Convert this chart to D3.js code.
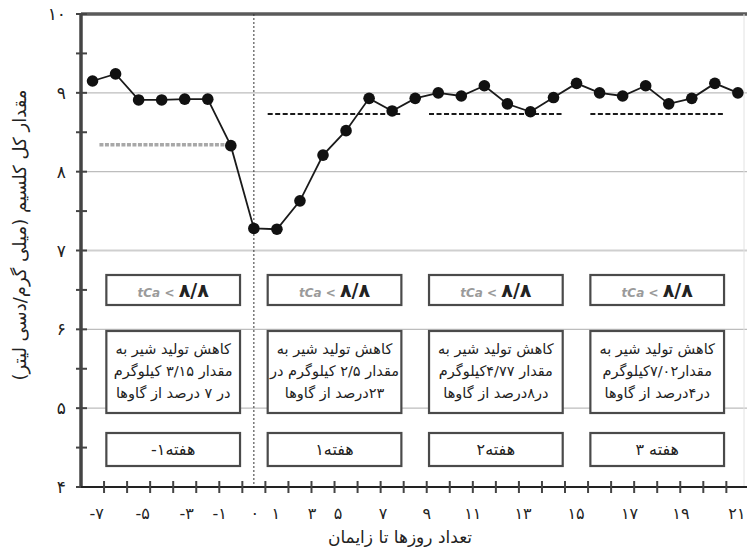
<!DOCTYPE html>
<html><head><meta charset="utf-8">
<script src="https://cdn.jsdelivr.net/npm/d3@7"></script>
<style>body{margin:0;background:#fff}svg{display:block}text{font-family:"DejaVu Sans",sans-serif}</style>
</head><body>
<script>
// ---- data ----
const days = [-7,-6,-5,-4,-3,-2,-1,0,1,2,3,4,5,6,7,8,9,10,11,12,13,14,15,16,17,18,19,20,21];
const calcium = [9.15,9.24,8.91,8.91,8.92,8.92,8.33,7.28,7.27,7.63,8.21,8.52,8.93,8.77,8.93,9.00,8.96,9.09,8.86,8.76,8.94,9.12,9.00,8.96,9.09,8.86,8.93,9.12,9.00];
const yTicks = [4,5,6,7,8,9,10];
const yTickLabels = ['۴','۵','۶','۷','۸','۹','۱۰'];
const xTickLabels = ['-۷','-۵','-۳','-۱','۰','۱','۳','۵','۷','۹','۱۱','۱۳','۱۵','۱۷','۱۹','۲۱'];
const xTickLabelAt = [-6.82,-4.82,-2.91,-1.48,0.04,0.95,2.52,3.65,5.6,7.5,9.5,11.68,13.98,16.3,18.53,20.96];
const weekStart = [-7,0,7,14];
const weekLabels = ['هفته۱-','هفته۱','هفته۲','هفته ۳'];
const thresholdLabel = '۸/۸';
const weekThreshold = [8.34,8.73,8.73,8.73];
const weekNotes = [
  ['کاهش تولید شیر به','مقدار ۳/۱۵ کیلوگرم','در ۷ درصد از گاوها'],
  ['کاهش تولید شیر به','مقدار ۲/۵ کیلوگرم در','۲۳درصد از گاوها'],
  ['کاهش تولید شیر به','مقدار ۴/۷۷کیلوگرم','در۸درصد از گاوها'],
  ['کاهش تولید شیر به','مقدار۷/۰۲کیلوگرم','در۴درصد از گاوها']
];
const xTitle = 'تعداد روزها تا زایمان';
const yTitle = 'مقدار کل کلسیم (میلی گرم/دسی لیتر)';

// ---- layout ----
const W = 747, H = 548;
const svg = d3.select('body').append('svg').attr('width', W).attr('height', H);
const x = d3.scaleLinear().domain([-7.5, 21.5]).range([81, 749.4]);
const y = d3.scaleLinear().domain([4, 10]).range([487, 14]);
const right = W;

// grid lines
svg.append('g').selectAll('line').data(yTicks.filter(v => v > 4 && v < 10)).join('line')
  .attr('x1', x(-7.5)).attr('x2', right).attr('y1', d => y(d)).attr('y2', d => y(d))
  .attr('stroke', d => d === 7 ? '#cfcfcf' : '#bdbdbd').attr('stroke-width', d => d === 7 ? 2.2 : 1.2);

// top frame line
svg.append('line').attr('x1', x(-7.5)).attr('x2', right).attr('y1', y(10)).attr('y2', y(10))
  .attr('stroke', '#5a5a5a').attr('stroke-width', 3.5);
// faint right border
svg.append('line').attr('x1', 744).attr('x2', 744).attr('y1', y(10)).attr('y2', y(4))
  .attr('stroke', '#e2e2e2').attr('stroke-width', 1);

// vertical dashed line at day 0
svg.append('line').attr('x1', x(0)).attr('x2', x(0)).attr('y1', y(10)).attr('y2', y(4))
  .attr('stroke', '#333').attr('stroke-width', 1).attr('stroke-dasharray', '2,2');

// threshold dashed lines
svg.append('g').selectAll('line').data(weekStart).join('line')
  .attr('x1', (d, i) => x(d + (i === 0 ? 0.3 : 0.6))).attr('x2', (d, i) => x(d + (i === 0 ? 6.05 : 6.4)))
  .attr('y1', (d, i) => y(weekThreshold[i])).attr('y2', (d, i) => y(weekThreshold[i]))
  .attr('stroke', (d, i) => i === 0 ? '#a8a8a8' : '#1a1a1a')
  .attr('stroke-width', (d, i) => i === 0 ? 3.5 : 2)
  .attr('stroke-dasharray', (d, i) => i === 0 ? '4,1.5' : '5,2.5');

// data line and points
const pts = days.map((d, i) => [d, calcium[i]]);
svg.append('path').datum(pts)
  .attr('d', d3.line().x(d => x(d[0])).y(d => y(d[1])))
  .attr('fill', 'none').attr('stroke', '#1a1a1a').attr('stroke-width', 1.8);
svg.append('g').selectAll('circle').data(pts).join('circle')
  .attr('cx', d => x(d[0])).attr('cy', d => y(d[1])).attr('r', 5.8).attr('fill', '#111');

// boxes
const bx = i => x(weekStart[i] + 0.6), bw = i => x(weekStart[i] + 6.4) - x(weekStart[i] + 0.6);
const boxes = svg.append('g');
weekStart.forEach((s, i) => {
  const g = boxes.append('g');
  g.append('rect').attr('x', bx(i)).attr('y', 275).attr('width', bw(i)).attr('height', 30)
    .attr('fill', '#fff').attr('stroke', '#4a4a4a').attr('stroke-width', 2.2);
  const t = g.append('text').attr('x', bx(i) + bw(i) / 2).attr('y', 297).attr('text-anchor', 'middle')
    .attr('direction', 'ltr');
  t.append('tspan').text('tCa < ').attr('font-style', 'italic').attr('font-weight', 'bold')
    .attr('font-size', 12).attr('fill', '#9a9a9a');
  t.append('tspan').text(thresholdLabel).attr('font-weight', 'bold').attr('font-size', 19).attr('fill', '#222');
  g.append('rect').attr('x', bx(i)).attr('y', 331).attr('width', bw(i)).attr('height', 82)
    .attr('fill', '#fff').attr('stroke', '#4a4a4a').attr('stroke-width', 2.2);
  weekNotes[i].forEach((line, j) => {
    g.append('text').attr('x', bx(i) + bw(i) / 2).attr('y', 354 + j * 22)
      .attr('text-anchor', 'middle').attr('direction', 'rtl').attr('font-size', 14.5).attr('fill', '#222')
      .text(line);
  });
  g.append('rect').attr('x', bx(i)).attr('y', 433).attr('width', bw(i)).attr('height', 33)
    .attr('fill', '#fff').attr('stroke', '#4a4a4a').attr('stroke-width', 2.2);
  g.append('text').attr('x', bx(i) + bw(i) / 2).attr('y', 455).attr('text-anchor', 'middle')
    .attr('direction', 'rtl').attr('font-size', 16).attr('fill', '#222').text(weekLabels[i]);
});

// y axis
svg.append('line').attr('x1', x(-7.5)).attr('x2', x(-7.5)).attr('y1', y(10)).attr('y2', y(4) + 1)
  .attr('stroke', '#444').attr('stroke-width', 3.5);
const yMinor = d3.range(4.5, 10, 1);
svg.append('g').selectAll('line').data(yTicks.concat(yMinor)).join('line')
  .attr('x1', x(-7.5) - 5).attr('x2', x(-7.5) + 6).attr('y1', d => y(d)).attr('y2', d => y(d))
  .attr('stroke', '#444').attr('stroke-width', 2);
svg.append('g').selectAll('text').data(yTicks).join('text')
  .attr('x', 66).attr('y', d => y(d) + 6).attr('text-anchor', 'end')
  .attr('font-size', 17).attr('fill', '#222').text((d, i) => yTickLabels[i]);

// x axis
svg.append('line').attr('x1', x(-7.5)).attr('x2', right).attr('y1', y(4)).attr('y2', y(4))
  .attr('stroke', '#222').attr('stroke-width', 2);
svg.append('g').selectAll('line').data(d3.range(-6.5, 21, 1)).join('line')
  .attr('x1', d => x(d)).attr('x2', d => x(d)).attr('y1', y(4) - 6).attr('y2', y(4) + 6)
  .attr('stroke', '#444').attr('stroke-width', 2);
svg.append('g').selectAll('text').data(xTickLabels).join('text')
  .attr('x', (d, i) => x(xTickLabelAt[i])).attr('y', 519).attr('text-anchor', 'middle')
  .attr('direction', 'ltr').attr('font-size', 16).attr('fill', '#222').text(d => d);

// titles
svg.append('text').attr('x', 400).attr('y', 543).attr('text-anchor', 'middle').attr('direction', 'rtl')
  .attr('font-size', 17).attr('fill', '#222').text(xTitle);
svg.append('text').attr('transform', 'translate(26,235) rotate(-90)').attr('text-anchor', 'middle')
  .attr('direction', 'rtl').attr('font-size', 18).attr('fill', '#222').text(yTitle);
</script>
</body></html>
